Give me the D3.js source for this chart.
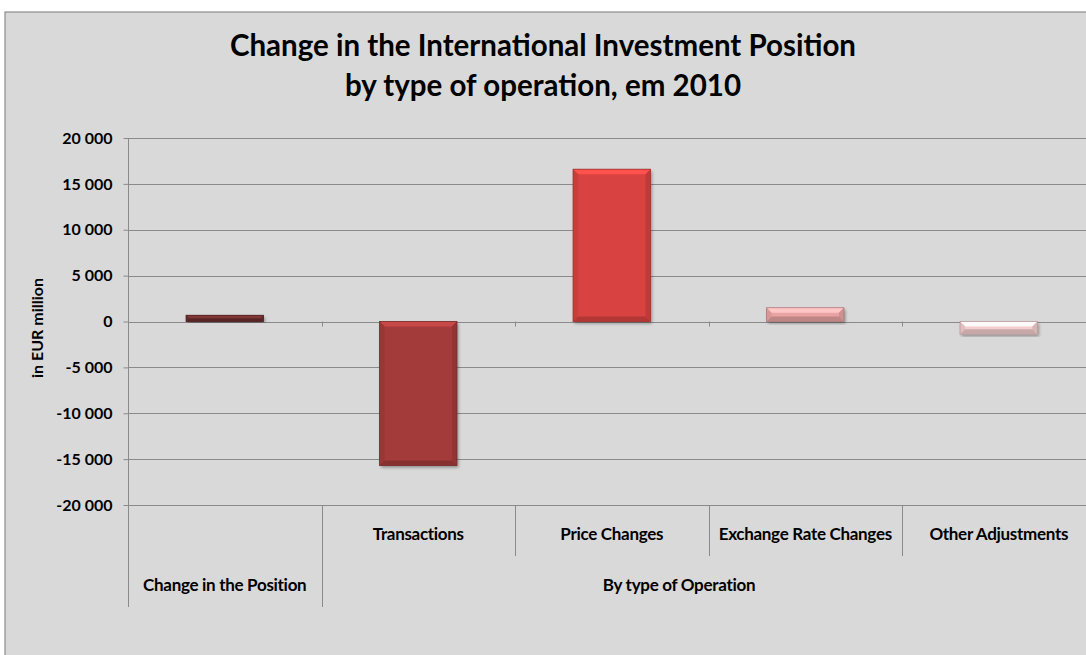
<!DOCTYPE html>
<html>
<head>
<meta charset="utf-8">
<script src="https://cdn.jsdelivr.net/npm/d3@7"></script>
<style>
  html, body { margin: 0; padding: 0; background: #ffffff; }
  svg { display: block; }
  text { font-family: Lato, "Open Sans", sans-serif; fill: #000; }
</style>
</head>
<body>
<svg id="chart" width="1086" height="655"></svg>
<script>
// Change in the International Investment Position, 2010 (EUR million)
const categories = ["Change in the Position", "Transactions", "Price Changes", "Exchange Rate Changes", "Other Adjustments"];
const values = [680, -15700, 16600, 1500, -1400];
const barColors = ["#6b2d2d", "#a43b3a", "#d8433f", "#e9a3a3", "#f2cdcd"];
const groups = [
  { label: "Change in the Position", from: 0, to: 0 },
  { label: "By type of Operation", from: 1, to: 4 }
];
const yTicks = [-20000, -15000, -10000, -5000, 0, 5000, 10000, 15000, 20000];
const titleLines = ["Change in the International Investment Position", "by type of operation, em 2010"];
const yLabel = "in EUR million";

const W = 1086, H = 655;
const plot = { left: 128, right: 1095.5, top: 138, bottom: 505 };

const svg = d3.select("#chart");
const gridColor = "#8a8a8a";
const labelSize = 17;

// chart background and frame
svg.append("rect").attr("x", 5).attr("y", 12).attr("width", W).attr("height", H)
  .attr("fill", "#d9d9d9").attr("stroke", "#8c8c8c").attr("stroke-width", 1.2);

const defs = svg.append("defs");
const shadow = defs.append("filter").attr("id", "shadow")
  .attr("x", "-20%").attr("y", "-20%").attr("width", "140%").attr("height", "140%");
shadow.append("feDropShadow").attr("dx", 1.5).attr("dy", 2).attr("stdDeviation", 1.6)
  .attr("flood-color", "#000").attr("flood-opacity", 0.35);

const fmt = d3.formatLocale({ decimal: ",", thousands: " ", grouping: [3], currency: ["", ""], minus: "-" }).format(",d");

const y = d3.scaleLinear().domain([-20000, 20000]).range([plot.bottom, plot.top]);
const x = d3.scaleBand().domain(categories).range([plot.left, plot.right])
  .paddingInner(0.6).paddingOuter(0.3);
const step = x.step();

// horizontal gridlines
svg.append("g").selectAll("line").data(yTicks).join("line")
  .attr("x1", plot.left).attr("x2", W)
  .attr("y1", d => Math.round(y(d)) + 0.5).attr("y2", d => Math.round(y(d)) + 0.5)
  .attr("stroke", gridColor).attr("stroke-width", 1);

// value axis
const yAxis = svg.append("g").attr("transform", `translate(${plot.left + 0.5},0)`)
  .call(d3.axisLeft(y).tickValues(yTicks).tickFormat(fmt).tickSize(5).tickPadding(11));
yAxis.select(".domain").remove();
yAxis.selectAll(".tick line").attr("stroke", gridColor);
yAxis.selectAll(".tick text").attr("font-size", 16).attr("font-weight", 700)
  .attr("font-family", "Lato, sans-serif").attr("fill", "#111");
svg.append("line").attr("x1", plot.left + 0.5).attr("x2", plot.left + 0.5)
  .attr("y1", plot.top).attr("y2", 607).attr("stroke", gridColor);

// small ticks at category boundaries on the zero line
const bounds = d3.range(1, categories.length).map(i => plot.left + i * step);
svg.append("g").selectAll("line").data(bounds).join("line")
  .attr("x1", d => Math.round(d) + 0.5).attr("x2", d => Math.round(d) + 0.5)
  .attr("y1", y(0)).attr("y2", y(0) + 5).attr("stroke", gridColor);

// bevelled bars
const bars = svg.append("g").selectAll("g").data(values).join("g")
  .each(function (d, i) {
    const g = d3.select(this);
    const bx = x(categories[i]), bw = x.bandwidth();
    const by = y(Math.max(0, d)), bh = Math.abs(y(d) - y(0));
    const base = d3.color(barColors[i]);
    const b = Math.min(5, bh / 2);
    g.append("rect").attr("x", bx).attr("y", by).attr("width", bw).attr("height", bh)
      .attr("fill", base).attr("filter", "url(#shadow)");
    const faces = [
      { pts: [[bx, by], [bx + bw, by], [bx + bw - b, by + b], [bx + b, by + b]], c: base.brighter(0.55) },
      { pts: [[bx, by], [bx + b, by + b], [bx + b, by + bh - b], [bx, by + bh]], c: base.darker(0.2) },
      { pts: [[bx + bw, by], [bx + bw - b, by + b], [bx + bw - b, by + bh - b], [bx + bw, by + bh]], c: base.darker(0.35) },
      { pts: [[bx, by + bh], [bx + b, by + bh - b], [bx + bw - b, by + bh - b], [bx + bw, by + bh]], c: base.darker(0.55) }
    ];
    g.selectAll("path").data(faces).join("path")
      .attr("d", f => d3.line()(f.pts) + "Z").attr("fill", f => f.c);
    g.append("rect").attr("x", bx).attr("y", by).attr("width", bw).attr("height", bh)
      .attr("fill", "none").attr("stroke", base.darker(0.8)).attr("stroke-width", 0.8);
  });

// category axis: separators and two-level labels
const groupEdges = groups.map(g => plot.left + (g.to + 1) * step).slice(0, -1);
svg.append("g").selectAll("line").data(groupEdges).join("line")
  .attr("x1", d => Math.round(d) + 0.5).attr("x2", d => Math.round(d) + 0.5)
  .attr("y1", plot.bottom).attr("y2", 607).attr("stroke", gridColor);
const innerEdges = bounds.filter(b => !groupEdges.some(g => Math.abs(g - b) < 1));
svg.append("g").selectAll("line").data(innerEdges).join("line")
  .attr("x1", d => Math.round(d) + 0.5).attr("x2", d => Math.round(d) + 0.5)
  .attr("y1", plot.bottom).attr("y2", 556).attr("stroke", gridColor);

const subCats = categories.filter((c, i) => groups.some(g => g.to > g.from && i >= g.from && i <= g.to));
svg.append("g").selectAll("text").data(subCats).join("text")
  .attr("x", d => x(d) + x.bandwidth() / 2).attr("y", 540)
  .attr("text-anchor", "middle").attr("font-size", labelSize).attr("font-weight", 700)
  .attr("letter-spacing", -0.3)
  .text(d => d);

svg.append("g").selectAll("text").data(groups).join("text")
  .attr("x", g => g.to > g.from ? 679 : x(categories[g.from]) + x.bandwidth() / 2)
  .attr("y", 591)
  .attr("text-anchor", "middle").attr("font-size", labelSize).attr("font-weight", 700)
  .attr("letter-spacing", -0.3)
  .text(g => g.label);

// axis title
svg.append("text").attr("transform", "translate(43,328) rotate(-90)")
  .attr("text-anchor", "middle").attr("font-size", 16).attr("font-weight", 700)
  .text(yLabel);

// chart title
svg.append("g").selectAll("text").data(titleLines).join("text")
  .attr("x", 543).attr("y", (d, i) => 56 + i * 40)
  .attr("text-anchor", "middle").attr("font-size", 29.5).attr("font-weight", 700)
  .text(d => d);
</script>
</body>
</html>
